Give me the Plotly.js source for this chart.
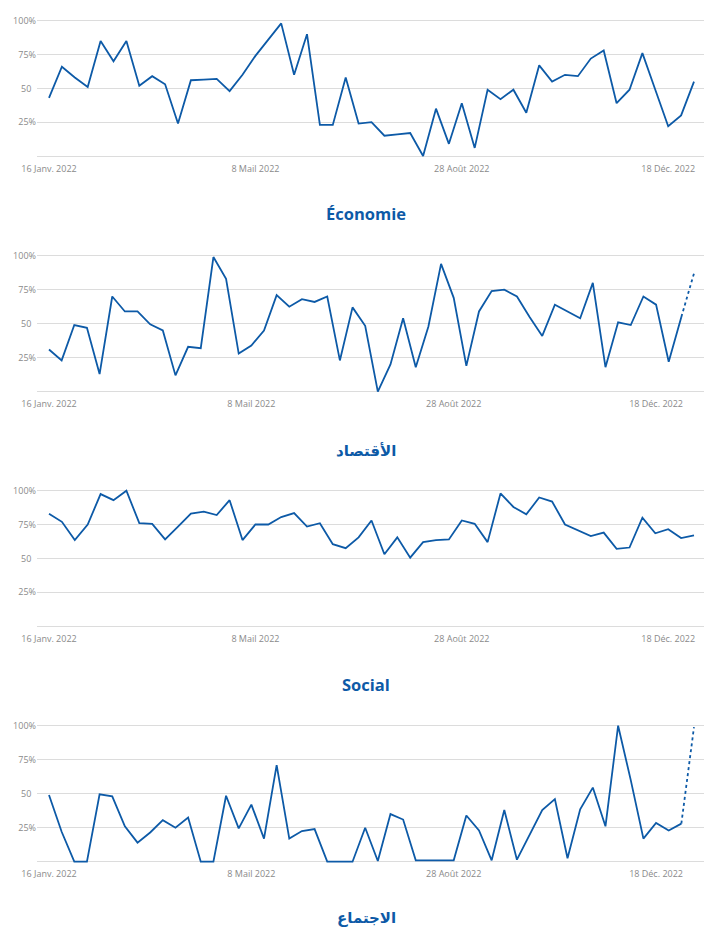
<!DOCTYPE html>
<html><head><meta charset="utf-8">
<script src="https://cdn.plot.ly/plotly-3.0.1.min.js"></script>
<style>html,body{margin:0;padding:0;background:#fff}#chart{width:704px;height:929px}</style>
</head><body><div id="chart"></div>
<script>
// ---- data (weekly, starting 16 Jan 2022) ----
const startDate = '2022-01-16';
const economie = [43,66,58,51,85,70,85,52,59,53,24,56,56.5,57,48,60,74,86,98,60,90,23,23,58,24,25,15,16,17,0,35,9,39,6,49,42,49,32,67,55,60,59,72,78,39,49,76,49,22,30,55];
const iqtisad = [31,23,49,47,13,70,59,59,49.5,45,12,33,32,99,83,28,34,45,71,62.5,68,66,70,23,62,48.5,0,20,54,18,48,94,69,19,59,74,75,70,55,41,64,59,54,80,18,51,49,70,64,22,55,87];
const social = [83,77,63.5,75,97.5,93,100,76,75.5,64,73.5,83,84.5,82,93,63.5,75,75,80.5,83.5,73.5,76,60.5,57.5,65.5,78,53,65.5,50.5,62,63.5,64,78,75.5,62,98,88,82.5,95,92,75,71,66.5,69,57,58,80,68.5,71.5,65,67];
const ijtima = [49,22,0,0,49.5,48,26,14,21.5,30.5,25,32.5,0,0,48.5,24.5,42,17,71,17,22.5,24,0,0,0,25,0.5,35,31,1,1,1,1,34,23,1,38,1.5,20,38,46,2.5,38.5,54.5,26,100,60,17,28.5,23,28,99];
const partialLastWeek = [false, true, false, true];
const panelTitles = ['Économie','الأقتصاد','Social','الاجتماع'];
const yTickVals = [0,25,50,75,100];
const yTickText = ['','25%','50\u00a0\u00a0','75%','100%'];
const xTickDates = ['2022-01-16','2022-05-08','2022-08-28','2022-12-18'];
const xTickText = ['16 Janv. 2022','8 Mail 2022','28 Août 2022','18 Déc. 2022'];

// ---- layout ----
const W = 704, H = 929;
const BLUE = '#0d5aa7';
const FONT = 'Open Sans, DejaVu Sans, sans-serif';
const seriesList = [economie, iqtisad, social, ijtima];
const geom = [
  {y100: 20.7, y0: 156, titleY: 214, titleSize: 16.5},
  {y100: 255.7, y0: 391.7, titleY: 450, titleSize: 15},
  {y100: 490.7, y0: 626, titleY: 684, titleSize: 16.5},
  {y100: 725.7, y0: 861.7, titleY: 917, titleSize: 15}
];
const DAY = 86400000;
const t0 = Date.parse(startDate + 'T00:00:00Z');
function weekly(n){ return Array.from({length:n},(_,i)=>new Date(t0+i*7*DAY).toISOString().slice(0,10)); }

const traces = [], layout = {
  width: W, height: H, margin: {l:0, r:0, t:0, b:0},
  paper_bgcolor: '#fff', plot_bgcolor: '#fff', showlegend: false,
  font: {family: FONT, color: '#888'}, annotations: []
};
const YMIN = -2, YMAX = 106;
seriesList.forEach((vals, i) => {
  const n = vals.length, dates = weekly(n);
  const g = geom[i];
  const ppu = (g.y0 - g.y100) / 100;
  const top = g.y100 - (YMAX - 100) * ppu, bottom = g.y0 - YMIN * ppu;
  const tN = t0 + (n - 1) * 7 * DAY;
  const pxPerMs = (694 - 49) / (tN - t0);
  const xa = 'x' + (i ? i + 1 : ''), ya = 'y' + (i ? i + 1 : '');
  const xk = 'xaxis' + (i ? i + 1 : ''), yk = 'yaxis' + (i ? i + 1 : '');
  const solidN = partialLastWeek[i] ? n - 1 : n;
  traces.push({x: dates.slice(0, solidN), y: vals.slice(0, solidN), xaxis: xa, yaxis: ya,
    type: 'scatter', mode: 'lines', line: {color: BLUE, width: 1.8}, hoverinfo: 'skip'});
  if (partialLastWeek[i]) {
    traces.push({x: dates.slice(n - 2), y: vals.slice(n - 2), xaxis: xa, yaxis: ya,
      type: 'scatter', mode: 'lines', line: {color: BLUE, width: 1.8, dash: 'dot'}, hoverinfo: 'skip'});
  }
  layout[xk] = {type: 'date', domain: [37 / W, 1], anchor: ya,
    range: [t0 - (49 - 37) / pxPerMs, tN + (704 - 694) / pxPerMs],
    tickmode: 'array', tickvals: xTickDates, ticktext: xTickText, ticklabelstandoff: 3,
    showgrid: false, zeroline: false, showline: false, ticks: '',
    tickfont: {size: 9, color: '#8a8a8a', family: FONT}, fixedrange: true};
  layout[yk] = {domain: [1 - bottom / H, 1 - top / H], anchor: xa, range: [YMIN, YMAX],
    tickmode: 'array', tickvals: yTickVals, ticktext: yTickText,
    showgrid: true, gridcolor: '#dcdcdc', gridwidth: 1, zeroline: false, showline: false, ticks: '',
    tickfont: {size: 9, color: '#8a8a8a', family: FONT}, fixedrange: true};
  layout.annotations.push({text: panelTitles[i], xref: 'paper', yref: 'paper',
    x: 366 / W, y: 1 - g.titleY / H, xanchor: 'center', yanchor: 'middle', showarrow: false,
    font: {size: g.titleSize, color: BLUE, family: FONT, weight: 700}});
});
Plotly.newPlot('chart', traces, layout, {staticPlot: true, displayModeBar: false});
</script></body></html>
